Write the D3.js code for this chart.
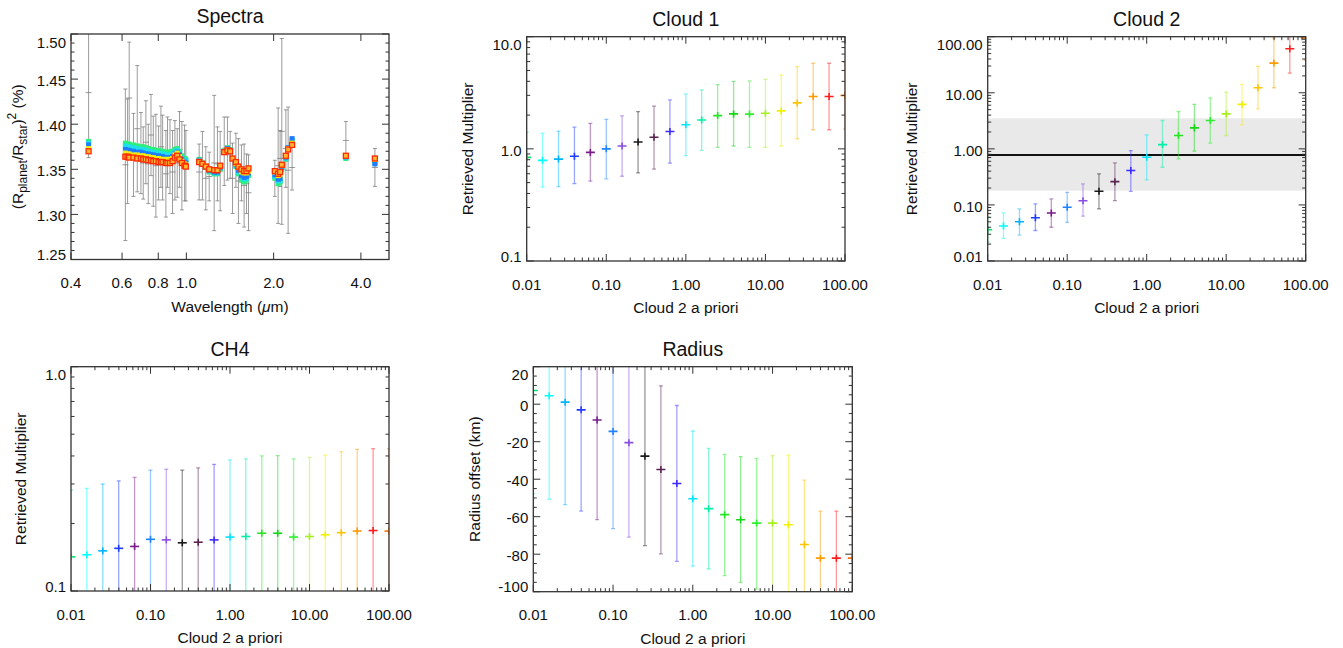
<!DOCTYPE html>
<html><head><meta charset="utf-8">
<script src="https://cdn.jsdelivr.net/npm/d3@7"></script>
<style>
body{margin:0;background:#fff}
svg{display:block}
text{font-family:"Liberation Sans",Arial,Helvetica,sans-serif;fill:#111}
</style>
</head><body>
<svg id="chart" width="1343" height="648"></svg>
<script>
// ---------------- DATA ----------------
// Spectra panel: observed transit depths (%) with 1-sigma errors
const specWave = [0.460,
 0.616,0.627,0.635,0.657,0.677,0.697,0.710,0.725,0.739,0.755,0.769,0.785,0.802,0.817,0.828,0.850,0.861,0.878,0.896,0.913,0.930,0.947,0.965,0.986,0.996,
 1.107,1.136,1.167,1.199,1.247,1.280,1.308,1.351,1.386,1.416,1.443,1.482,1.512,1.549,1.582,1.612,1.638,
 2.019,2.073,2.106,2.134,2.204,2.244,2.316,
 3.55,4.47];
const specVal = [1.435,
 1.355,1.370,1.429,1.366,1.395,1.368,1.357,1.380,1.356,1.388,1.359,1.354,1.357,1.375,1.363,1.345,1.369,1.364,1.347,1.360,1.357,1.372,1.354,1.357,1.354,
 1.347,1.354,1.340,1.342,1.357,1.356,1.348,1.370,1.373,1.366,1.340,1.360,1.337,1.346,1.332,1.334,1.324,
 1.340,1.354,1.362,1.392,1.373,1.349,1.352,
 1.382,1.352];
const specErr = [0.072,
 0.084,0.058,0.062,0.046,0.070,0.045,0.040,0.046,0.044,0.045,0.050,0.057,0.041,0.045,0.047,0.048,0.039,0.041,0.046,0.044,0.038,0.042,0.049,0.042,0.039,
 0.031,0.038,0.035,0.027,0.075,0.041,0.044,0.038,0.035,0.026,0.039,0.030,0.047,0.031,0.046,0.033,0.042,
 0.020,0.064,0.031,0.103,0.043,0.070,0.025,
 0.021,0.021];
// Model spectra (squares)
const modelGreen = [1.381,
 1.379,1.378,1.378,1.377,1.376,1.375,1.375,1.374,1.373,1.372,1.372,1.371,1.371,1.370,1.370,1.369,1.369,1.369,1.370,1.372,1.373,1.370,1.365,1.362,1.361,
 1.361,1.357,1.352,1.347,1.345,1.345,1.350,1.371,1.374,1.372,1.362,1.353,1.345,1.338,1.336,1.338,1.343,
 1.340,1.334,1.336,1.350,1.361,1.372,1.380,
 1.362,1.358];
const modelCyan = [1.379,
 1.376,1.375,1.375,1.374,1.373,1.372,1.372,1.371,1.370,1.369,1.369,1.368,1.368,1.367,1.367,1.366,1.366,1.366,1.367,1.370,1.371,1.368,1.363,1.360,1.359,
 1.360,1.357,1.353,1.348,1.346,1.346,1.351,1.371,1.373,1.371,1.362,1.354,1.347,1.341,1.339,1.340,1.345,
 1.342,1.337,1.338,1.351,1.362,1.373,1.382,
 1.363,1.357];
const modelBlue = [1.377,
 1.372,1.371,1.371,1.370,1.369,1.369,1.368,1.367,1.367,1.366,1.366,1.365,1.365,1.364,1.364,1.363,1.363,1.363,1.364,1.367,1.369,1.366,1.361,1.358,1.357,
 1.360,1.357,1.353,1.349,1.347,1.347,1.352,1.370,1.373,1.371,1.362,1.355,1.349,1.343,1.341,1.342,1.346,
 1.344,1.339,1.340,1.352,1.363,1.374,1.384,
 1.364,1.356];
const modelYellow = [1.373,
 1.368,1.367,1.367,1.366,1.366,1.365,1.365,1.364,1.364,1.363,1.363,1.362,1.362,1.361,1.361,1.361,1.361,1.361,1.362,1.366,1.368,1.364,1.359,1.356,1.355,
 1.359,1.357,1.354,1.350,1.349,1.349,1.353,1.370,1.372,1.370,1.362,1.356,1.352,1.347,1.346,1.346,1.348,
 1.347,1.343,1.344,1.354,1.364,1.373,1.379,
 1.365,1.361];
const modelRed = [1.370,
 1.364,1.364,1.363,1.363,1.362,1.362,1.361,1.361,1.360,1.360,1.359,1.359,1.358,1.358,1.358,1.357,1.357,1.357,1.359,1.363,1.365,1.361,1.357,1.354,1.353,
 1.358,1.356,1.353,1.350,1.349,1.349,1.354,1.369,1.371,1.370,1.362,1.358,1.353,1.350,1.348,1.348,1.351,
 1.348,1.345,1.347,1.355,1.365,1.372,1.377,
 1.365,1.362];
const specXTicks = [0.4,0.6,0.8,1.0,2.0,4.0];
const specXLabels = ["0.4","0.6","0.8","1.0","2.0","4.0"];
const specYTicks = [1.25,1.30,1.35,1.40,1.45,1.50];
const specYLabels = ["1.25","1.30","1.35","1.40","1.45","1.50"];

// Cloud 2 a priori values (x of the retrieval panels) and their colours
const priorX = [0.01,0.0158,0.0251,0.0398,0.0631,0.1,0.158,0.251,0.398,0.631,1.0,1.58,2.51,3.98,6.31,10,15.8,25.1,39.8,63.1,100];
const priorColors = ["#10e070","#00ffff","#00b4ff","#1f3cff","#7a1a8a","#1e84ff","#8a4ee0","#1a1a1a","#5a2250","#3a2cff",
 "#00e4ff","#00f0a8","#22e622","#12d812","#2cf02c","#a6f020","#f2f000","#ffc400","#ff9a00","#ff1e1e","#ff7000"];
const decadeTicks = [0.01,0.1,1,10,100];
const decadeLabels = ["0.01","0.10","1.00","10.00","100.00"];

const cloud1Val = [0.84,0.79,0.81,0.86,0.93,1.00,1.06,1.15,1.27,1.43,1.64,1.81,1.98,2.05,2.04,2.08,2.18,2.57,2.93,2.93,2.99];
const cloud1Hi  = [1.41,1.38,1.44,1.56,1.69,1.83,1.97,2.15,2.40,2.73,3.09,3.36,3.74,4.00,4.03,4.17,4.53,5.42,5.80,5.80,5.90];
const cloud1Lo  = [0.50,0.455,0.46,0.49,0.515,0.54,0.57,0.61,0.66,0.745,0.87,0.97,1.03,1.06,1.03,1.03,1.06,1.23,1.48,1.48,1.50];
const cloud1YTicks = [0.1,1,10];
const cloud1YLabels = ["0.1","1.0","10.0"];

const cloud2Val = [0.036,0.042,0.050,0.059,0.072,0.091,0.119,0.175,0.26,0.41,0.71,1.19,1.73,2.37,3.2,4.2,6.2,12.3,33.8,61,95];
const cloud2Hi  = [0.062,0.072,0.085,0.104,0.128,0.168,0.237,0.358,0.56,0.93,1.78,3.2,4.64,6.19,8.14,10.3,14.1,29.5,94.7,150,300];
const cloud2Lo  = [0.0216,0.0254,0.029,0.035,0.040,0.049,0.063,0.085,0.119,0.175,0.28,0.47,0.66,0.91,1.26,1.73,2.68,5.18,12.3,22.4,38];
const cloud2Prior = 0.78, cloud2PriorLo = 0.18, cloud2PriorHi = 3.5;

const ch4Val = [0.142,0.145,0.151,0.155,0.158,0.170,0.169,0.164,0.165,0.169,0.174,0.175,0.181,0.181,0.174,0.175,0.178,0.182,0.185,0.186,0.185];
const ch4Hi  = [0.282,0.287,0.300,0.310,0.321,0.346,0.349,0.346,0.354,0.367,0.384,0.388,0.400,0.401,0.388,0.394,0.404,0.418,0.428,0.431,0.431];
const ch4Lo  = [0.070,0.073,0.076,0.078,0.078,0.083,0.082,0.078,0.077,0.078,0.079,0.079,0.082,0.082,0.078,0.078,0.078,0.079,0.080,0.080,0.080];
const ch4YTicks = [0.1,1];
const ch4YLabels = ["0.1","1.0"];

const radiusVal = [7.3,4.5,1.1,-3.0,-8.4,-14.5,-20.5,-27.7,-34.8,-42.3,-50.4,-55.7,-58.9,-61.6,-63.4,-63.4,-64.3,-74.8,-82.1,-82.1,-82.1];
const radiusHi  = [62,60,56,51,45,37,30,20,9.8,-0.7,-14.3,-23.6,-26.8,-28.0,-28.9,-27.5,-27.1,-40.5,-57.0,-57.0,-56.3];
const radiusLo  = [-47.7,-50.7,-53.6,-57.0,-61.6,-66.4,-70.9,-75.4,-79.8,-83.8,-86.4,-87.9,-91.4,-95.0,-98.6,-100.4,-102,-110,-110,-110,-110];
const radiusYTicks = [-100,-80,-60,-40,-20,0,20];
const radiusYLabels = ["-100","-80","-60","-40","-20","0","20"];

// ---------------- DRAWING ----------------
const svg = d3.select("#chart");
const AX = "#333";
let clipN = 0;

function panel(o) {
  const x = o.xScale.range([o.left, o.right]);
  const y = o.yScale.range([o.bottom, o.top]);
  const g = svg.append("g");
  const id = "clip" + (clipN++);
  svg.append("clipPath").attr("id", id).append("rect")
    .attr("x", o.left).attr("y", o.top).attr("width", o.right - o.left).attr("height", o.bottom - o.top);
  const plot = g.append("g").attr("clip-path", `url(#${id})`);
  return {o, x, y, g, plot};
}

function axes(p, cfg) {
  const {o, x, y, g} = p;
  const ax = g.append("g");
  const MAJ = 7, MIN = 3.5;
  const tick = (x1, y1, x2, y2) => ax.append("line").attr("x1", x1).attr("y1", y1).attr("x2", x2).attr("y2", y2)
      .attr("stroke", AX).attr("stroke-width", 1);
  (cfg.xMinor || []).forEach(v => { const xx = x(v);
    tick(xx, o.bottom, xx, o.bottom - MIN); tick(xx, o.top, xx, o.top + MIN); });
  cfg.xMajor.forEach(v => { const xx = x(v);
    tick(xx, o.bottom, xx, o.bottom - MAJ); tick(xx, o.top, xx, o.top + MAJ); });
  (cfg.yMinor || []).forEach(v => { const yy = y(v);
    tick(o.left, yy, o.left + MIN, yy); tick(o.right, yy, o.right - MIN, yy); });
  cfg.yMajor.forEach(v => { const yy = y(v);
    tick(o.left, yy, o.left + MAJ, yy); tick(o.right, yy, o.right - MAJ, yy); });
  ax.append("rect").attr("x", o.left).attr("y", o.top).attr("width", o.right - o.left).attr("height", o.bottom - o.top)
    .attr("fill", "none").attr("stroke", AX).attr("stroke-width", 1.3);
  // tick labels
  cfg.xMajor.forEach((v, i) => {
    g.append("text").attr("x", x(v)).attr("y", o.bottom + 23.5).attr("dy", "0.35em")
      .attr("text-anchor", "middle").style("font-size", "15px").text(cfg.xLabels[i]);
  });
  cfg.yMajor.forEach((v, i) => {
    const yy = Math.max(o.top + 8.5, Math.min(o.bottom - 4.5, y(v) + 1.5));
    g.append("text").attr("x", o.left - 5).attr("y", yy).attr("dy", "0.35em")
      .attr("text-anchor", "end").style("font-size", "15px").text(cfg.yLabels[i]);
  });
  // title
  g.append("text").attr("x", (o.left + o.right) / 2).attr("y", o.top - 17.5).attr("dy", "0.35em")
    .attr("text-anchor", "middle").style("font-size", "19.5px").text(cfg.title);
  // x title
  if (cfg.xTitle) {
    const t = g.append("text").attr("x", (o.left + o.right) / 2).attr("y", o.bottom + 47).attr("dy", "0.35em")
      .attr("text-anchor", "middle").style("font-size", "15.5px");
    cfg.xTitle(t);
  }
  const yt = g.append("text").attr("transform", `translate(${cfg.yTitleX},${(o.top + o.bottom) / 2}) rotate(-90)`)
    .attr("dy", "0.35em").attr("text-anchor", "middle").style("font-size", "15.5px");
  cfg.yTitle(yt);
}

function logMinor(scale) {
  return scale.ticks().filter(v => {
    const m = v / Math.pow(10, Math.floor(Math.log10(v) + 1e-9));
    return Math.abs(m - 1) > 1e-6;
  });
}

function priorPoints(p, val, lo, hi) {
  const {x, y, plot} = p;
  priorX.forEach((xv, i) => {
    const c = priorColors[i];
    const xx = x(xv), y0 = y(lo[i]), y1 = y(hi[i]), yc = y(val[i]);
    const eb = plot.append("g").attr("stroke", c).attr("stroke-opacity", 0.45).attr("stroke-width", 1.3);
    eb.append("line").attr("x1", xx).attr("x2", xx).attr("y1", y0).attr("y2", y1);
    eb.append("line").attr("x1", xx - 2).attr("x2", xx + 2).attr("y1", y0).attr("y2", y0);
    eb.append("line").attr("x1", xx - 2).attr("x2", xx + 2).attr("y1", y1).attr("y2", y1);
    const cr = plot.append("g").attr("stroke", c).attr("stroke-width", 1.6);
    cr.append("line").attr("x1", xx - 4.5).attr("x2", xx + 4.5).attr("y1", yc).attr("y2", yc);
    cr.append("line").attr("x1", xx).attr("x2", xx).attr("y1", yc - 3.5).attr("y2", yc + 3.5);
  });
}

const priorTitle = t => t.text("Cloud 2 a priori");
const multTitle = t => t.text("Retrieved Multiplier");

// ---- Spectra ----
{
  const p = panel({left: 71, right: 389, top: 34, bottom: 259.5,
    xScale: d3.scaleLog().domain([0.4, 5.0]), yScale: d3.scaleLinear().domain([1.25, 1.50])});
  const {x, y, plot} = p;
  const eb = plot.append("g").attr("stroke", "#7a7a7a").attr("stroke-width", 1).attr("stroke-opacity", 0.75);
  specWave.forEach((w, i) => {
    const xx = x(w), ya = y(specVal[i] - specErr[i]), yb = y(specVal[i] + specErr[i]), yc = y(specVal[i]);
    eb.append("line").attr("x1", xx).attr("x2", xx).attr("y1", ya).attr("y2", yb);
    eb.append("line").attr("x1", xx - 2).attr("x2", xx + 2).attr("y1", ya).attr("y2", ya);
    eb.append("line").attr("x1", xx - 2).attr("x2", xx + 2).attr("y1", yb).attr("y2", yb);
    eb.append("line").attr("x1", xx - 3).attr("x2", xx + 3).attr("y1", yc).attr("y2", yc);
  });
  const models = [
    {v: modelGreen, fill: "#2cf07a", stroke: "none"},
    {v: modelCyan, fill: "#1ee0e8", stroke: "none"},
    {v: modelBlue, fill: "#1f7cff", stroke: "none"},
    {v: modelYellow, fill: "#f4ec10", stroke: "none"},
    {v: modelRed, fill: "#ffb830", stroke: "#ff2a00"}
  ];
  models.forEach(m => {
    plot.append("g").selectAll("rect").data(specWave).join("rect")
      .attr("x", (w) => x(w) - 2.5).attr("y", (w, i) => y(m.v[i]) - 2.5)
      .attr("width", 5).attr("height", 5)
      .attr("fill", m.fill).attr("stroke", m.stroke).attr("stroke-width", 1.3);
  });
  axes(p, {
    title: "Spectra",
    xMajor: specXTicks, xLabels: specXLabels,
    yMajor: specYTicks, yLabels: specYLabels,
    yMinor: d3.range(125, 151).map(v => v / 100).filter(v => Math.round(v * 100) % 5 !== 0),
    yTitleX: 18,
    xTitle: t => { t.append("tspan").text("Wavelength ("); t.append("tspan").style("font-style", "italic").text("\u03bc"); t.append("tspan").text("m)"); },
    yTitle: t => {
      t.append("tspan").text("(R");
      t.append("tspan").attr("dy", 4).style("font-size", "12px").text("planet");
      t.append("tspan").attr("dy", -4).text("/R");
      t.append("tspan").attr("dy", 4).style("font-size", "12px").text("star");
      t.append("tspan").attr("dy", -4).text(")");
      t.append("tspan").attr("dy", -7).style("font-size", "12px").text("2");
      t.append("tspan").attr("dy", 7).text(" (%)");
    }
  });
}

// ---- Cloud 1 ----
{
  const xs = d3.scaleLog().domain([0.01, 100]), ys = d3.scaleLog().domain([0.1, 10]);
  const p = panel({left: 526.7, right: 845, top: 36.7, bottom: 261, xScale: xs, yScale: ys});
  priorPoints(p, cloud1Val, cloud1Lo, cloud1Hi);
  axes(p, {title: "Cloud 1", xMajor: decadeTicks, xLabels: decadeLabels, xMinor: logMinor(p.x),
    yMajor: cloud1YTicks, yLabels: cloud1YLabels, yMinor: logMinor(p.y),
    yTitleX: 468, xTitle: priorTitle, yTitle: multTitle});
}

// ---- Cloud 2 ----
{
  const xs = d3.scaleLog().domain([0.01, 100]), ys = d3.scaleLog().domain([0.01, 100]);
  const p = panel({left: 987.7, right: 1305.7, top: 36.7, bottom: 261, xScale: xs, yScale: ys});
  p.plot.append("rect").attr("x", p.o.left).attr("width", p.o.right - p.o.left)
    .attr("y", p.y(cloud2PriorHi)).attr("height", p.y(cloud2PriorLo) - p.y(cloud2PriorHi)).attr("fill", "#e9e9e9");
  p.plot.append("line").attr("x1", p.o.left).attr("x2", p.o.right)
    .attr("y1", p.y(cloud2Prior)).attr("y2", p.y(cloud2Prior)).attr("stroke", "#111").attr("stroke-width", 2);
  priorPoints(p, cloud2Val, cloud2Lo, cloud2Hi);
  axes(p, {title: "Cloud 2", xMajor: decadeTicks, xLabels: decadeLabels, xMinor: logMinor(p.x),
    yMajor: decadeTicks, yLabels: decadeLabels, yMinor: logMinor(p.y),
    yTitleX: 911.7, xTitle: priorTitle, yTitle: multTitle});
}

// ---- CH4 ----
{
  const xs = d3.scaleLog().domain([0.01, 100]), ys = d3.scaleLog().domain([0.1, 1]);
  const p = panel({left: 71, right: 389, top: 366.7, bottom: 591, xScale: xs, yScale: ys});
  priorPoints(p, ch4Val, ch4Lo, ch4Hi);
  axes(p, {title: "CH4", xMajor: decadeTicks, xLabels: decadeLabels, xMinor: logMinor(p.x),
    yMajor: ch4YTicks, yLabels: ch4YLabels, yMinor: logMinor(p.y),
    yTitleX: 20.7, xTitle: priorTitle, yTitle: multTitle});
}

// ---- Radius ----
{
  const xs = d3.scaleLog().domain([0.01, 100]), ys = d3.scaleLinear().domain([-100, 20]);
  const p = panel({left: 533.3, right: 852.3, top: 366.7, bottom: 591.7, xScale: xs, yScale: ys});
  priorPoints(p, radiusVal, radiusLo, radiusHi);
  axes(p, {title: "Radius", xMajor: decadeTicks, xLabels: decadeLabels, xMinor: logMinor(p.x),
    yMajor: radiusYTicks, yLabels: radiusYLabels,
    yMinor: d3.range(-100, 21, 5).filter(v => v % 20 !== 0),
    yTitleX: 475, xTitle: priorTitle, yTitle: t => t.text("Radius offset (km)")});
}
</script>
</body></html>
